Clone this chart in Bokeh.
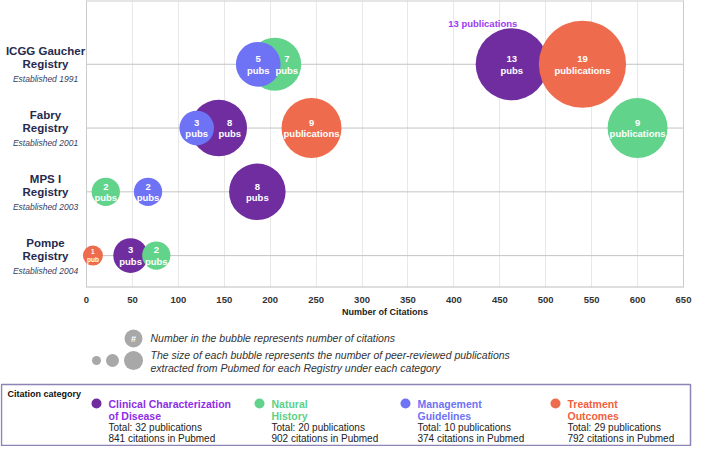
import math
from bokeh.plotting import figure
from bokeh.models import ColumnDataSource, Range1d, FixedTicker
from bokeh.layouts import column
from bokeh.core.properties import value
from bokeh.embed import file_html
from bokeh.resources import INLINE

# ---------------- data ----------------
registries = ["ICGG Gaucher", "Fabry", "MPS I", "Pompe"]
established = [1991, 2001, 2003, 2004]
categories = ["Clinical Characterization of Disease", "Natural History",
              "Management Guidelines", "Treatment Outcomes"]
legend_titles = ["Clinical Characterization\nof Disease", "Natural\nHistory",
                 "Management\nGuidelines", "Treatment\nOutcomes"]

clinical_citations = [463, 144, 186, 48]
clinical_pubs = [13, 8, 8, 3]
clinical_words = ["pubs", "pubs", "pubs", "pubs"]

natural_citations = [205, 600, 21, 76]
natural_pubs = [7, 9, 2, 2]
natural_words = ["pubs", "publications", "pubs", "pubs"]

management_citations = [187, 120, 67, None]
management_pubs = [5, 3, 2, None]
management_words = ["pubs", "pubs", "pubs", None]

treatment_citations = [540, 245, None, 7]
treatment_pubs = [19, 9, None, 1]
treatment_words = ["publications", "publications", None, "pub"]

x_ticks = list(range(0, 651, 50))

series = [
    (clinical_citations, clinical_pubs, clinical_words),
    (natural_citations, natural_pubs, natural_words),
    (management_citations, management_pubs, management_words),
    (treatment_citations, treatment_pubs, treatment_words),
]

# ---------------- style / layout ----------------
SANS = "Liberation Sans"
colors = ["#6f2da0", "#62d38a", "#6e72f5", "#ee6c4d"]
title_colors = ["#8e2de6", "#5cd088", "#6e72f5", "#f0603e"]
NAVY = "#262a4e"

# label nudges (px) for bubbles partly covered by a neighbour: (category index, registry index)
label_nudge = {(1, 0): 12, (0, 1): 11}

W = 692
H_MAIN = 305
H_LEG = 446 - H_MAIN
X0_PX, XMAX_PX = 86, 683          # where 0 and 650 citations sit on the canvas
scale = (XMAX_PX - X0_PX) / (x_ticks[-1] - x_ticks[0])
x_start = x_ticks[0] - X0_PX / scale
x_end = x_start + W / scale
Y0, Y1 = 0.5, 5.0
LABEL_X = x_ticks[0] + (45 - X0_PX) / scale

row_y = [len(registries) - i for i in range(len(registries))]  # 4,3,2,1

p = figure(width=W, height=H_MAIN, x_range=Range1d(x_start, x_end), y_range=Range1d(Y0, Y1),
           output_backend="svg", toolbar_location=None, y_axis_location=None,
           min_border_left=0, min_border_right=0, min_border_top=0, min_border_bottom=14)
p.outline_line_color = None
p.ygrid.grid_line_color = None
p.xgrid.ticker = FixedTicker(ticks=x_ticks)
p.xgrid.grid_line_color = "#e8e8e8"

p.xaxis.ticker = FixedTicker(ticks=x_ticks)
p.xaxis.major_tick_line_color = None
p.xaxis.minor_tick_line_color = None
p.xaxis.axis_line_color = None
p.xaxis.major_label_text_font = SANS
p.xaxis.major_label_text_font_style = "bold"
p.xaxis.major_label_text_font_size = "9.5px"
p.xaxis.major_label_text_color = "#333333"
p.xaxis.major_label_standoff = 3

# frame lines / row lines
xa, xb = x_ticks[0], x_ticks[-1]
p.segment(x0=[xa] * len(row_y), x1=[xb] * len(row_y), y0=row_y, y1=row_y,
          line_color="#c4c4c4", line_width=1)
p.segment(x0=[xa, xb], x1=[xa, xb], y0=[Y0, Y0], y1=[Y1, Y1], line_color="#cccccc", line_width=1)
p.segment(x0=[xa], x1=[xb], y0=[Y1], y1=[Y1], line_color="#cccccc", line_width=2)
p.segment(x0=[xa], x1=[xb], y0=[Y0], y1=[Y0], line_color="#bdbdbd", line_width=2)

# bubbles (all circles first, then all labels)
label_sources = []
for ci, (cits, pubs, words) in enumerate(series):
    xs, ys, sizes, labels, fsz, offs = [], [], [], [], [], []
    for ri in range(len(registries)):
        if cits[ri] is None:
            continue
        xs.append(cits[ri])
        ys.append(row_y[ri])
        sizes.append(20 * math.sqrt(pubs[ri]))
        labels.append(f"{pubs[ri]}\n{words[ri]}")
        fsz.append("6.5px" if pubs[ri] == 1 else "9.5px")
        offs.append(label_nudge.get((ci, ri), 0))
    src = ColumnDataSource(dict(x=xs, y=ys, size=sizes, label=labels, fs=fsz, off=offs))
    p.scatter("x", "y", size="size", source=src, fill_color=colors[ci], line_color=None)
    label_sources.append(src)
for src in label_sources:
    p.text("x", "y", text="label", source=src, x_offset="off", text_color="white",
           text_font=value(SANS), text_font_style="bold", text_font_size="fs",
           text_align="center", text_baseline="middle", text_line_height=1.05)

# annotation above the ICGG clinical bubble
ann_pubs = clinical_pubs[0]
p.text([clinical_citations[0]], [row_y[0]], text=[f"{ann_pubs} publications"],
       x_offset=-29, y_offset=-(20 * math.sqrt(ann_pubs) / 2 + 5),
       text_color="#9b3cf0", text_font=value(SANS), text_font_style="bold",
       text_font_size="9.5px", text_align="center", text_baseline="middle")

# registry labels on the left (inside the extended frame)
n = len(registries)
p.text([LABEL_X] * n, row_y, text=registries, y_offset=-13, text_color=NAVY,
       text_font=value(SANS), text_font_style="bold", text_font_size="11.5px",
       text_align="center", text_baseline="middle")
p.text([LABEL_X] * n, row_y, text=["Registry"] * n, text_color=NAVY,
       text_font=value(SANS), text_font_style="bold", text_font_size="11.5px",
       text_align="center", text_baseline="middle")
p.text([LABEL_X] * n, row_y, text=[f"Established {e}" for e in established], y_offset=15,
       text_color="#3a3d5c", text_font=value(SANS), text_font_style="italic",
       text_font_size="8.5px", text_align="center", text_baseline="middle")

# ---------------- legend area (canvas-pixel coordinates) ----------------
p2 = figure(width=W, height=H_LEG, x_range=Range1d(0, W), y_range=Range1d(446, H_MAIN),
            output_backend="svg", toolbar_location=None,
            x_axis_location=None, y_axis_location=None,
            min_border_left=0, min_border_right=0, min_border_top=0, min_border_bottom=0)
p2.grid.visible = False
p2.outline_line_color = None

p2.text([(X0_PX + XMAX_PX) / 2], [311], text=["Number of Citations"], text_color="#222222",
        text_font=value(SANS), text_font_style="bold", text_font_size="9px",
        text_align="center", text_baseline="middle")

GRAY = "#a8a8a8"
p2.scatter([133], [338], size=18, fill_color=GRAY, line_color=None)
p2.text([133], [338], text=["#"], text_color="white", text_font=value(SANS),
        text_font_style="bold", text_font_size="9px", text_align="center", text_baseline="middle")
p2.scatter([96, 112, 133], [360, 360, 360], size=[9, 13, 19], fill_color=GRAY, line_color=None)
p2.text([150, 150, 150], [337, 354, 367],
        text=["Number in the bubble represents number of citations",
              "The size of each bubble represents the number of peer-reviewed publications",
              "extracted from Pubmed for each Registry under each category"],
        text_color="#333333", text_font=value(SANS), text_font_style="italic",
        text_font_size="10.5px", text_align="left", text_baseline="middle")

p2.quad(left=[1], right=[690], top=[384], bottom=[445], fill_color=None,
        line_color="#8c84b4", line_width=1.5)
p2.text([7], [393], text=["Citation category"], text_color="#111111", text_font=value(SANS),
        text_font_style="bold", text_font_size="9px", text_align="left", text_baseline="middle")

leg_x = [96, 259, 405, 555]
tx = [x + 12 for x in leg_x]
p2.scatter(leg_x, [403] * 4, size=10, fill_color=colors, line_color=None)
first = [t.split("\n")[0] for t in legend_titles]
second = [t.split("\n")[1] for t in legend_titles]
p2.text(tx, [403] * 4, text=first, text_color=title_colors, text_font=value(SANS),
        text_font_style="bold", text_font_size="10.5px", text_align="left", text_baseline="middle")
p2.text(tx, [415] * 4, text=second, text_color=title_colors, text_font=value(SANS),
        text_font_style="bold", text_font_size="10.5px", text_align="left", text_baseline="middle")
tot_pubs = [sum(v for v in s[1] if v is not None) for s in series]
tot_cits = [sum(v for v in s[0] if v is not None) for s in series]
p2.text(tx, [427] * 4, text=[f"Total: {t} publications" for t in tot_pubs],
        text_color="#222222", text_font=value(SANS), text_font_size="10px",
        text_align="left", text_baseline="middle")
p2.text(tx, [438] * 4, text=[f"{c} citations in Pubmed" for c in tot_cits],
        text_color="#222222", text_font=value(SANS), text_font_size="10px",
        text_align="left", text_baseline="middle")

layout = column(p, p2, spacing=0)
open("out.html", "w").write(file_html(layout, INLINE))
